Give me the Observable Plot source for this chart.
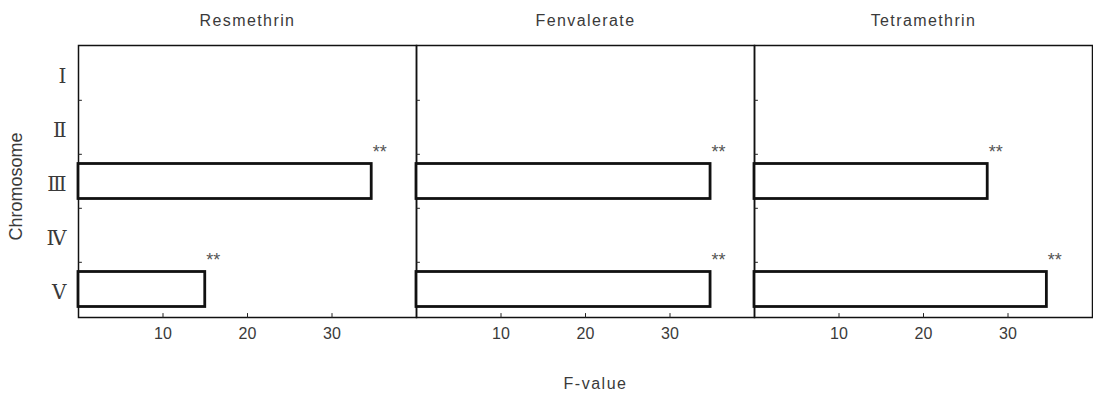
<!DOCTYPE html>
<html><head><meta charset="utf-8">
<script src="https://cdn.jsdelivr.net/npm/d3@7"></script>
<script src="https://cdn.jsdelivr.net/npm/@observablehq/plot@0.6"></script>
<style>body{margin:0;background:#fff}</style>
</head><body><div id="chart"></div>
<script>
// ---- data ----
const drugs = ["Resmethrin", "Fenvalerate", "Tetramethrin"];
const chromosomes = ["Ⅰ", "Ⅱ", "Ⅲ", "Ⅳ", "Ⅴ"];
const resmethrin   = [null, null, 34.7, null, 15.0];
const fenvalerate  = [null, null, 34.8, null, 34.8];
const tetramethrin = [null, null, 27.6, null, 34.6];
const signifRes = [null, null, "**", null, "**"];
const signifFen = [null, null, "**", null, "**"];
const signifTet = [null, null, "**", null, "**"];
const xTicks = [10, 20, 30];
const xLabel = "F-value";
const yLabel = "Chromosome";

const series = [resmethrin, fenvalerate, tetramethrin];
const signif = [signifRes, signifFen, signifTet];
const rows = [];
drugs.forEach((drug, i) => {
  chromosomes.forEach((c, j) => {
    if (series[i][j] != null) rows.push({drug, chrom: c, value: series[i][j], mark: signif[i][j]});
  });
});
const boundaries = chromosomes.slice(1);

const tickShape = {draw(context, l) { context.moveTo(0, 0); context.lineTo(0, -l); }};
const txt = "#3a3a3a";
const sans = "'Liberation Sans', Arial, sans-serif";

const chart = Plot.plot({
  width: 1093,
  height: 395,
  marginLeft: 77,
  marginRight: 1,
  marginTop: 45,
  marginBottom: 78,
  style: {background: "#fff", color: "#000"},
  fx: {domain: drugs, padding: 0},
  x: {domain: [0, 40]},
  y: {domain: chromosomes, padding: 0},
  marks: [
    Plot.frame({stroke: "#111", strokeWidth: 1.5}),
    Plot.barX(rows, {fx: "drug", y: "chrom", x: "value", fill: "white", stroke: "#111", strokeWidth: 2.8, insetTop: 9.5, insetBottom: 9.5}),
    Plot.text(rows, {fx: "drug", y: "chrom", x: "value", text: "mark", dx: 8, dy: -29, fontSize: 18, fill: "#555", fontFamily: sans}),
    Plot.vector(xTicks, {x: d => d, frameAnchor: "bottom", length: 4, rotate: 0, anchor: "start", shape: tickShape, stroke: "#222", strokeWidth: 1}),
    Plot.vector(boundaries, {y: d => d, frameAnchor: "left", length: 3, rotate: 90, anchor: "start", shape: tickShape, stroke: "#222", strokeWidth: 1, dy: -27.2}),
    Plot.axisFx({anchor: "top", label: null, tickSize: 0, tickPadding: 20, fontSize: 16, fill: txt, fontFamily: sans}),
    Plot.axisX({ticks: xTicks, tickSize: 0, tickPadding: 10, fontSize: 16, fill: txt, fontFamily: sans, label: null}),
    Plot.axisY({tickSize: 0, tickPadding: 12, fontSize: 20, dy: 3, fill: txt, fontFamily: "'DejaVu Serif', 'Liberation Serif', serif", label: null}),
    Plot.text([xLabel], {fx: () => drugs[1], frameAnchor: "bottom", dy: 71, dx: 10, fontSize: 16, fill: txt, fontFamily: sans}),
    Plot.text([yLabel], {fx: () => drugs[0], frameAnchor: "left", textAnchor: "middle", dx: -62, dy: 5, rotate: -90, fontSize: 18, fill: txt, fontFamily: sans})
  ]
});
// letter spacing for the widely spaced labels of the original
d3.select(chart).selectAll("g[aria-label='fx-axis tick label'] text").attr("letter-spacing", "1.4px");
d3.select(chart).selectAll("g[aria-label='text'] text").filter(function() { return this.textContent === xLabel; }).attr("letter-spacing", "1.5px");
document.getElementById("chart").appendChild(chart);
</script>
</body></html>
